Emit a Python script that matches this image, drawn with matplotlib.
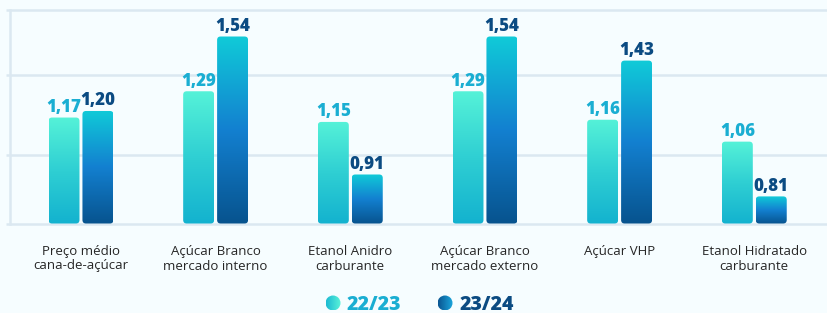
import numpy as np
import matplotlib
matplotlib.use("Agg")
import matplotlib.pyplot as plt
from matplotlib.patches import FancyBboxPatch, Circle
from matplotlib.colors import LinearSegmentedColormap

# ---------------- data ----------------
categories = [
    "Preço médio\ncana-de-açúcar",
    "Açúcar Branco\nmercado interno",
    "Etanol Anidro\ncarburante",
    "Açúcar Branco\nmercado externo",
    "Açúcar VHP",
    "Etanol Hidratado\ncarburante",
]
series_names = ["22/23", "23/24"]
values_2223 = [1.17, 1.29, 1.15, 1.29, 1.16, 1.06]
values_2324 = [1.20, 1.54, 0.91, 1.54, 1.43, 0.81]

# ---------------- style ----------------
BG = "#f6fdff"
GRID = "#dbe8f1"
C_2223_TXT = "#1aaed2"
C_2324_TXT = "#0b4b82"
cmap_2223 = LinearSegmentedColormap.from_list("a", ["#13b2cf", "#2fcfd3", "#55f2d8"])
cmap_2324 = LinearSegmentedColormap.from_list("b", ["#07538e", "#1380d0", "#10cbd8"])
cmap_leg_2223 = LinearSegmentedColormap.from_list("c", ["#1cbad2", "#5af3d9"])
cmap_leg_2324 = LinearSegmentedColormap.from_list("d", ["#0a5592", "#1aa6dc"])

W, H = 827, 313
fig = plt.figure(figsize=(W / 100, H / 100), dpi=100, facecolor=BG)
ax_left, ax_bot, ax_top = 10, 224, 10
ax = fig.add_axes([ax_left / W, (H - ax_bot) / H, (W - ax_left) / W, (ax_bot - ax_top) / H])
ax.set_facecolor("none")

ybase, ytop = 0.684, 1.661
x = np.arange(len(categories))
ax.set_xlim(-0.527, 5.54)
ax.set_ylim(ybase, ytop)
for s in ax.spines.values():
    s.set_visible(False)
ax.set_xticks([])
ax.set_yticks([])

# frame / grid lines (in axes fraction)
for yf in [0.0, 0.322, 0.696, 1.0]:
    ax.plot([-0.005, 1], [yf, yf], transform=ax.transAxes, color=GRID, lw=1.8,
            clip_on=False, zorder=0, solid_capstyle="butt")
ax.plot([0, 0], [0, 1], transform=ax.transAxes, color=GRID, lw=1.8, clip_on=False, zorder=0)

width, off = 0.23, 0.126
bars1 = ax.bar(x - off, np.array(values_2223) - ybase, width, bottom=ybase, visible=False)
bars2 = ax.bar(x + off, np.array(values_2324) - ybase, width, bottom=ybase, visible=False)

# pixel scales for rounding
px_x = (ax.get_xlim()[1] - ax.get_xlim()[0]) / (W - ax_left)
px_y = (ytop - ybase) / (ax_bot - ax_top)
asp = px_y / px_x
radius = 3.5 * px_x
grad = np.linspace(0, 1, 256).reshape(-1, 1)


def gradient_bars(bars, cmap):
    for r in bars:
        x0, y0 = r.get_x(), r.get_y()
        w, h = r.get_width(), r.get_height()
        patch = FancyBboxPatch((x0, y0 + 0.5 * px_y), w, h - 0.5 * px_y,
                               boxstyle=f"round,pad=0,rounding_size={radius}",
                               mutation_aspect=asp, facecolor="none", edgecolor="none")
        ax.add_patch(patch)
        im = ax.imshow(grad, cmap=cmap, extent=[x0, x0 + w, y0, y0 + h],
                       origin="lower", aspect="auto", zorder=2, interpolation="bilinear")
        im.set_clip_path(patch)


gradient_bars(bars1, cmap_2223)
gradient_bars(bars2, cmap_2324)
ax.set_xlim(-0.527, 5.54)
ax.set_ylim(ybase, ytop)


def fmt(v):
    return f"{v:.2f}".replace(".", ",")


for bars, vals, col in [(bars1, values_2223, C_2223_TXT), (bars2, values_2324, C_2324_TXT)]:
    for r, v in zip(bars, vals):
        ax.annotate(fmt(v), (r.get_x() + r.get_width() / 2, v), xytext=(0, 4),
                    textcoords="offset points", ha="center", va="baseline",
                    fontsize=12.2, fontweight=800, family="Open Sans", color=col,
                    zorder=4)

# category labels
for xi, lab in zip(x, categories):
    ax.text(xi, -(245 - ax_bot) / (ax_bot - ax_top), lab, transform=ax.get_xaxis_transform(),
            ha="center", va="top", fontsize=9.5, family="Open Sans", color="#262626",
            linespacing=1.15)

# legend (pixel overlay)
lax = fig.add_axes([0, 0, 1, 1])
lax.set_xlim(0, W)
lax.set_ylim(H, 0)
lax.axis("off")
lax.patch.set_alpha(0)
hgrad = np.linspace(0, 1, 64).reshape(1, -1)
leg_items = [(333, cmap_leg_2223, C_2223_TXT, 347), (445, cmap_leg_2324, C_2324_TXT, 460)]
for (cx, cm, col, tx), name in zip(leg_items, series_names):
    cy, rr = 303.0, 7.5
    c = Circle((cx, cy), rr, facecolor="none", edgecolor="none")
    lax.add_patch(c)
    im = lax.imshow(hgrad, cmap=cm, extent=[cx - rr, cx + rr, cy + rr, cy - rr], aspect="auto",
                    interpolation="bilinear")
    im.set_clip_path(c)
    lax.text(tx, 309.5, name, ha="left", va="baseline", fontsize=14, fontweight=800,
             family="Open Sans", color=col)
lax.set_xlim(0, W)
lax.set_ylim(H, 0)

fig.savefig("out.png", dpi=100, facecolor=BG)
